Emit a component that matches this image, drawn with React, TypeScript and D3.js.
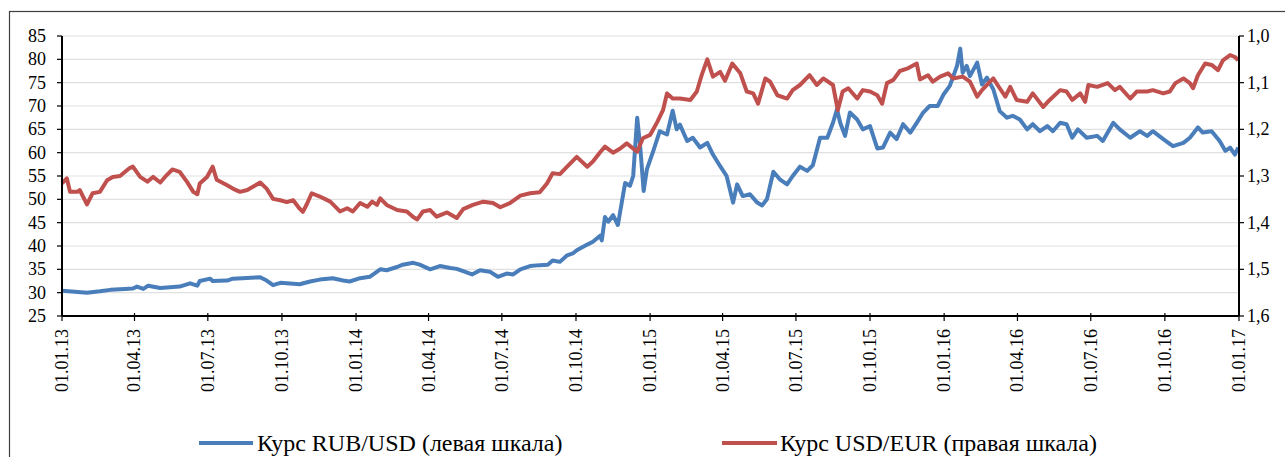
import React from "react";
import * as d3 from "d3";

// RUB/USD, left axis
const rubUsd: [string, number][] = [
  ["2013-01-01", 30.4], ["2013-01-17", 30.2], ["2013-02-01", 30.0], ["2013-02-17", 30.3],
  ["2013-03-02", 30.6], ["2013-03-20", 30.8], ["2013-03-30", 30.9], ["2013-04-04", 31.3],
  ["2013-04-12", 30.8], ["2013-04-18", 31.5], ["2013-05-03", 31.0], ["2013-05-27", 31.3],
  ["2013-06-09", 32.0], ["2013-06-18", 31.5], ["2013-06-21", 32.5], ["2013-07-04", 33.0],
  ["2013-07-07", 32.5], ["2013-07-25", 32.6], ["2013-08-01", 33.0], ["2013-09-04", 33.3],
  ["2013-09-12", 32.6], ["2013-09-20", 31.6], ["2013-09-29", 32.1], ["2013-10-15", 31.9],
  ["2013-10-23", 31.8], ["2013-11-05", 32.4], ["2013-11-17", 32.8], ["2013-12-03", 33.1],
  ["2013-12-16", 32.6], ["2013-12-24", 32.4], ["2014-01-06", 33.1], ["2014-01-18", 33.4],
  ["2014-01-31", 35.0], ["2014-02-08", 34.8], ["2014-02-21", 35.5], ["2014-02-28", 36.0],
  ["2014-03-13", 36.4], ["2014-03-21", 36.0], ["2014-04-03", 35.0], ["2014-04-15", 35.7],
  ["2014-04-28", 35.3], ["2014-05-06", 35.1], ["2014-05-14", 34.6], ["2014-05-25", 33.9],
  ["2014-06-04", 34.8], ["2014-06-16", 34.5], ["2014-06-26", 33.4], ["2014-07-07", 34.1],
  ["2014-07-15", 33.9], ["2014-07-24", 35.0], ["2014-08-05", 35.7], ["2014-08-17", 35.9],
  ["2014-08-27", 36.0], ["2014-09-02", 36.9], ["2014-09-11", 36.6], ["2014-09-20", 38.0],
  ["2014-09-27", 38.4], ["2014-10-02", 39.1], ["2014-10-15", 40.3], ["2014-10-22", 40.9],
  ["2014-10-31", 42.2], ["2014-11-02", 41.2], ["2014-11-06", 46.2], ["2014-11-10", 45.2],
  ["2014-11-16", 46.6], ["2014-11-22", 44.5], ["2014-12-01", 53.5], ["2014-12-07", 52.9],
  ["2014-12-11", 55.0], ["2014-12-16", 67.5], ["2014-12-20", 60.7], ["2014-12-24", 51.8],
  ["2014-12-28", 56.4], ["2015-01-05", 60.4], ["2015-01-13", 64.6], ["2015-01-22", 63.9],
  ["2015-01-29", 69.0], ["2015-02-03", 65.0], ["2015-02-07", 66.0], ["2015-02-16", 62.5],
  ["2015-02-23", 63.2], ["2015-03-04", 61.1], ["2015-03-13", 62.1], ["2015-03-20", 59.6],
  ["2015-03-29", 57.1], ["2015-04-06", 55.0], ["2015-04-14", 49.3], ["2015-04-19", 53.2],
  ["2015-04-26", 50.7], ["2015-05-05", 51.1], ["2015-05-14", 49.3], ["2015-05-20", 48.7],
  ["2015-05-26", 50.0], ["2015-06-03", 55.9], ["2015-06-11", 54.3], ["2015-06-20", 53.2],
  ["2015-06-27", 55.0], ["2015-07-06", 57.0], ["2015-07-15", 56.1], ["2015-07-22", 57.3],
  ["2015-07-31", 63.2], ["2015-08-09", 63.2], ["2015-08-16", 66.4], ["2015-08-21", 69.3],
  ["2015-08-25", 66.4], ["2015-08-31", 63.6], ["2015-09-06", 68.6], ["2015-09-15", 67.1],
  ["2015-09-22", 65.0], ["2015-10-01", 65.7], ["2015-10-10", 60.9], ["2015-10-17", 61.1],
  ["2015-10-26", 64.3], ["2015-11-03", 62.9], ["2015-11-11", 66.1], ["2015-11-20", 64.3],
  ["2015-11-28", 66.4], ["2015-12-06", 68.6], ["2015-12-14", 70.0], ["2015-12-24", 70.0],
  ["2015-12-31", 72.4], ["2016-01-08", 74.3], ["2016-01-17", 78.6], ["2016-01-21", 82.3],
  ["2016-01-24", 77.1], ["2016-01-29", 78.6], ["2016-02-02", 76.4], ["2016-02-11", 79.3],
  ["2016-02-17", 74.6], ["2016-02-23", 76.1], ["2016-03-02", 73.6], ["2016-03-10", 68.9],
  ["2016-03-19", 67.5], ["2016-03-26", 67.9], ["2016-04-04", 67.1], ["2016-04-13", 65.0],
  ["2016-04-20", 66.1], ["2016-04-29", 64.6], ["2016-05-08", 65.7], ["2016-05-15", 64.6],
  ["2016-05-24", 66.4], ["2016-06-01", 66.1], ["2016-06-08", 63.2], ["2016-06-15", 65.0],
  ["2016-06-26", 63.2], ["2016-07-09", 63.6], ["2016-07-16", 62.5], ["2016-07-29", 66.4],
  ["2016-08-06", 65.0], ["2016-08-19", 63.2], ["2016-08-31", 64.6], ["2016-09-09", 63.6],
  ["2016-09-16", 64.6], ["2016-09-29", 62.9], ["2016-10-11", 61.4], ["2016-10-24", 62.1],
  ["2016-11-01", 63.2], ["2016-11-11", 65.4], ["2016-11-17", 64.3], ["2016-11-28", 64.6],
  ["2016-12-08", 62.5], ["2016-12-15", 60.4], ["2016-12-21", 61.1], ["2016-12-27", 59.6],
  ["2016-12-31", 61.1],
];

// USD/EUR, right axis (inverted)
const usdEur: [string, number][] = [
  ["2013-01-01", 1.316], ["2013-01-07", 1.305], ["2013-01-11", 1.334], ["2013-01-20", 1.334],
  ["2013-01-23", 1.330], ["2013-02-01", 1.361], ["2013-02-08", 1.337], ["2013-02-17", 1.334],
  ["2013-02-26", 1.309], ["2013-03-05", 1.302], ["2013-03-14", 1.300], ["2013-03-26", 1.283],
  ["2013-03-30", 1.280], ["2013-04-08", 1.302], ["2013-04-17", 1.312], ["2013-04-24", 1.302],
  ["2013-05-03", 1.314], ["2013-05-11", 1.298], ["2013-05-18", 1.286], ["2013-05-27", 1.291],
  ["2013-06-05", 1.312], ["2013-06-13", 1.334], ["2013-06-18", 1.339], ["2013-06-21", 1.316],
  ["2013-06-30", 1.302], ["2013-07-07", 1.280], ["2013-07-12", 1.308], ["2013-07-25", 1.320],
  ["2013-08-01", 1.327], ["2013-08-10", 1.334], ["2013-08-19", 1.330], ["2013-08-26", 1.323],
  ["2013-09-04", 1.314], ["2013-09-12", 1.327], ["2013-09-20", 1.349], ["2013-09-29", 1.352],
  ["2013-10-07", 1.356], ["2013-10-15", 1.352], ["2013-10-23", 1.370], ["2013-10-27", 1.377],
  ["2013-11-01", 1.360], ["2013-11-07", 1.337], ["2013-11-17", 1.344], ["2013-11-30", 1.355],
  ["2013-12-12", 1.376], ["2013-12-21", 1.369], ["2013-12-28", 1.376], ["2014-01-06", 1.358],
  ["2014-01-15", 1.366], ["2014-01-21", 1.355], ["2014-01-27", 1.362], ["2014-01-31", 1.348],
  ["2014-02-08", 1.362], ["2014-02-21", 1.373], ["2014-03-05", 1.376], ["2014-03-13", 1.388],
  ["2014-03-18", 1.393], ["2014-03-25", 1.376], ["2014-04-03", 1.373], ["2014-04-11", 1.387],
  ["2014-04-24", 1.378], ["2014-05-06", 1.390], ["2014-05-14", 1.371], ["2014-05-26", 1.362],
  ["2014-06-08", 1.355], ["2014-06-20", 1.358], ["2014-06-29", 1.367], ["2014-07-11", 1.358],
  ["2014-07-24", 1.342], ["2014-08-05", 1.337], ["2014-08-17", 1.335], ["2014-08-26", 1.316],
  ["2014-09-02", 1.294], ["2014-09-11", 1.296], ["2014-09-20", 1.280], ["2014-10-02", 1.259],
  ["2014-10-15", 1.280], ["2014-10-22", 1.269], ["2014-10-31", 1.249], ["2014-11-06", 1.237],
  ["2014-11-16", 1.250], ["2014-11-25", 1.241], ["2014-12-03", 1.230], ["2014-12-16", 1.248],
  ["2014-12-23", 1.219], ["2015-01-01", 1.212], ["2015-01-10", 1.184], ["2015-01-17", 1.159],
  ["2015-01-22", 1.123], ["2015-01-29", 1.134], ["2015-02-07", 1.134], ["2015-02-20", 1.137],
  ["2015-02-28", 1.119], ["2015-03-06", 1.084], ["2015-03-13", 1.050], ["2015-03-20", 1.087],
  ["2015-03-29", 1.077], ["2015-04-04", 1.096], ["2015-04-13", 1.059], ["2015-04-23", 1.080],
  ["2015-05-01", 1.119], ["2015-05-09", 1.123], ["2015-05-15", 1.145], ["2015-05-24", 1.091],
  ["2015-05-30", 1.098], ["2015-06-08", 1.127], ["2015-06-20", 1.134], ["2015-06-27", 1.116],
  ["2015-07-06", 1.105], ["2015-07-18", 1.084], ["2015-07-27", 1.105], ["2015-08-04", 1.091],
  ["2015-08-16", 1.105], ["2015-08-22", 1.159], ["2015-08-28", 1.119], ["2015-09-04", 1.112],
  ["2015-09-15", 1.134], ["2015-09-22", 1.116], ["2015-10-01", 1.119], ["2015-10-10", 1.127],
  ["2015-10-16", 1.145], ["2015-10-22", 1.101], ["2015-10-30", 1.094], ["2015-11-07", 1.075],
  ["2015-11-16", 1.070], ["2015-11-28", 1.059], ["2015-12-02", 1.093], ["2015-12-12", 1.084],
  ["2015-12-18", 1.098], ["2015-12-27", 1.087], ["2016-01-06", 1.080], ["2016-01-12", 1.091],
  ["2016-01-24", 1.087], ["2016-02-02", 1.098], ["2016-02-11", 1.130], ["2016-02-17", 1.116],
  ["2016-02-27", 1.098], ["2016-03-02", 1.091], ["2016-03-10", 1.112], ["2016-03-17", 1.130],
  ["2016-03-23", 1.109], ["2016-03-31", 1.137], ["2016-04-13", 1.141], ["2016-04-20", 1.123],
  ["2016-05-03", 1.152], ["2016-05-11", 1.137], ["2016-05-24", 1.116], ["2016-06-01", 1.119],
  ["2016-06-08", 1.137], ["2016-06-18", 1.123], ["2016-06-24", 1.141], ["2016-06-28", 1.105],
  ["2016-07-09", 1.109], ["2016-07-22", 1.101], ["2016-07-31", 1.116], ["2016-08-06", 1.109],
  ["2016-08-19", 1.134], ["2016-08-27", 1.119], ["2016-09-09", 1.119], ["2016-09-16", 1.116],
  ["2016-09-29", 1.123], ["2016-10-07", 1.119], ["2016-10-14", 1.101], ["2016-10-24", 1.091],
  ["2016-11-01", 1.101], ["2016-11-05", 1.112], ["2016-11-11", 1.084], ["2016-11-20", 1.059],
  ["2016-11-28", 1.062], ["2016-12-06", 1.073], ["2016-12-12", 1.052], ["2016-12-21", 1.041],
  ["2016-12-27", 1.045], ["2016-12-31", 1.052],
];

const xTickLabels = [
  "01.01.13", "01.04.13", "01.07.13", "01.10.13",
  "01.01.14", "01.04.14", "01.07.14", "01.10.14",
  "01.01.15", "01.04.15", "01.07.15", "01.10.15",
  "01.01.16", "01.04.16", "01.07.16", "01.10.16", "01.01.17",
];
const leftTicks = [25, 30, 35, 40, 45, 50, 55, 60, 65, 70, 75, 80, 85];
const rightTicks = [1.0, 1.1, 1.2, 1.3, 1.4, 1.5, 1.6];
const legendLabels = ["Курс RUB/USD (левая шкала)", "Курс USD/EUR (правая шкала)"];

const BLUE = "#4a7ebb";
const RED = "#c0504d";
const FONT = "Liberation Serif";

const parseIso = d3.timeParse("%Y-%m-%d");
const parseLabel = d3.timeParse("%d.%m.%y");

export default function App() {
  const width = 1285, height = 457;
  const left = 62, right = 1239, top = 36, bottom = 316;

  const x = d3.scaleTime()
    .domain([parseLabel(xTickLabels[0])!, parseLabel(xTickLabels[xTickLabels.length - 1])!])
    .range([left, right]);
  const yL = d3.scaleLinear().domain([25, 85]).range([bottom, top]);
  const yR = d3.scaleLinear().domain([1.0, 1.6]).range([top, bottom]);

  const blueLine = d3.line<[string, number]>()
    .x(d => x(parseIso(d[0])!))
    .y(d => yL(d[1]));
  const redLine = d3.line<[string, number]>()
    .x(d => x(parseIso(d[0])!))
    .y(d => yR(d[1]));

  const fmtR = (v: number) => v.toFixed(1).replace(".", ",");

  return (
    <svg width={width} height={height} style={{ position: "absolute", left: 0, top: 0, background: "#fff" }}>
      <rect x={9.5} y={11.5} width={1300} height={500} fill="none" stroke="#404040" strokeWidth={1.2} />

      {/* gridlines */}
      {leftTicks.slice(1).map(t => (
        <line key={"g" + t} x1={left} x2={right} y1={yL(t)} y2={yL(t)} stroke="#e0e0e0" strokeWidth={1.2} />
      ))}

      {/* series */}
      <path d={blueLine(rubUsd) || ""} fill="none" stroke={BLUE} strokeWidth={4} strokeLinejoin="round" />
      <path d={redLine(usdEur) || ""} fill="none" stroke={RED} strokeWidth={4} strokeLinejoin="round" />

      {/* left axis */}
      <line x1={left} x2={left} y1={top} y2={bottom} stroke="#000" strokeWidth={2} />
      {leftTicks.map(t => (
        <g key={"l" + t} transform={`translate(0,${yL(t)})`}>
          <line x1={left - 5} x2={left} stroke="#000" strokeWidth={1.2} />
          <text x={left - 16} dy="0.33em" textAnchor="end" fontSize={18} fill="#000" fontFamily={FONT}>{t}</text>
        </g>
      ))}

      {/* right axis */}
      <line x1={right} x2={right} y1={top} y2={bottom} stroke="#000" strokeWidth={2} />
      {rightTicks.map(t => (
        <g key={"r" + t} transform={`translate(0,${yR(t)})`}>
          <line x1={right} x2={right + 5} stroke="#000" strokeWidth={1.2} />
          <text x={right + 8} dy="0.33em" textAnchor="start" fontSize={18} fill="#000" fontFamily={FONT}>{fmtR(t)}</text>
        </g>
      ))}

      {/* x axis */}
      <line x1={left} x2={right} y1={bottom} y2={bottom} stroke="#000" strokeWidth={2} />
      {xTickLabels.map(lbl => {
        const px = x(parseLabel(lbl)!);
        return (
          <g key={lbl} transform={`translate(${px},${bottom})`}>
            <line y1={-3} y2={5} stroke="#000" strokeWidth={1.2} />
            <text transform="translate(0,13) rotate(-90)" dy="0.33em" textAnchor="end" fontSize={18} fill="#000" fontFamily={FONT}>{lbl}</text>
          </g>
        );
      })}

      {/* legend */}
      <line x1={199} x2={253} y1={443} y2={443} stroke={BLUE} strokeWidth={4} />
      <text x={257} y={451} fontSize={24} fill="#000" fontFamily={FONT}>{legendLabels[0]}</text>
      <line x1={722} x2={777} y1={443} y2={443} stroke={RED} strokeWidth={4} />
      <text x={780} y={451} fontSize={24} fill="#000" fontFamily={FONT}>{legendLabels[1]}</text>
    </svg>
  );
}
